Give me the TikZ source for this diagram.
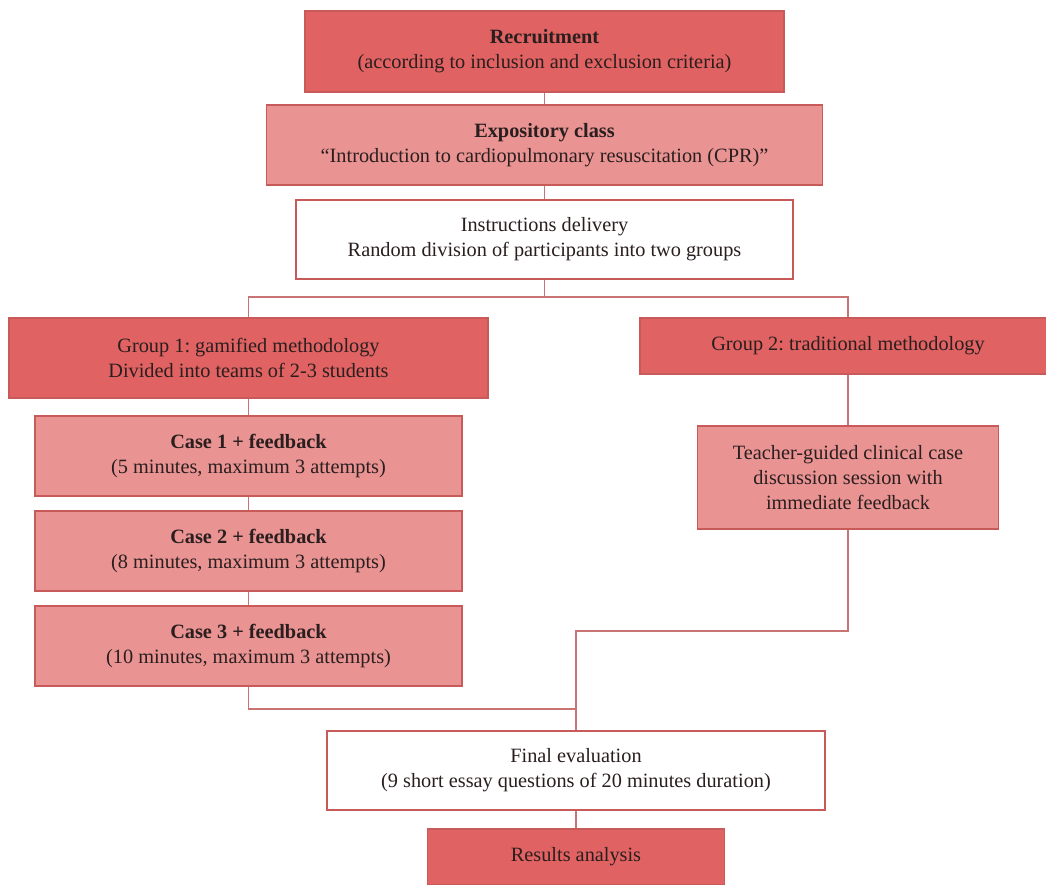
\documentclass[tikz,border=0pt]{standalone}
\usepackage{fontspec}
\setmainfont{Liberation Serif}
\frenchspacing
\definecolor{darkred}{HTML}{E06262}
\definecolor{lightred}{HTML}{E99393}
\definecolor{edgered}{HTML}{C85A5A}
\definecolor{linered}{HTML}{C87474}
\definecolor{txt}{HTML}{2A1E1E}
\tikzset{
  box/.style={draw=edgered, line width=1.2pt, inner sep=0pt, align=center, text=txt,
    font=\fontsize{20.3}{25}\selectfont\frenchspacing},
  darkbox/.style={box, fill=darkred},
  lightbox/.style={box, fill=lightred},
  whitebox/.style={box, fill=white},
  conn/.style={draw=linered, line width=1.3pt},
}
\begin{document}
\begin{tikzpicture}[x=1pt,y=-1pt]
\clip (0,0) rectangle (1046,884);
\fill[white] (0,0) rectangle (1046,884);
\node[darkbox, minimum width=479pt, minimum height=81pt] (rec) at (544.5,51.5)
  {\textbf{Recruitment}\\(according to inclusion and exclusion criteria)};
\node[lightbox, minimum width=556pt, minimum height=80pt] (exp) at (544.5,145)
  {\textbf{Expository class}\\``Introduction to cardiopulmonary resuscitation (CPR)''};
\node[whitebox, minimum width=497pt, minimum height=79pt] (ins) at (544.5,239.5)
  {Instructions delivery\\Random division of participants into two groups};
\node[darkbox, minimum width=479pt, minimum height=80pt] (g1) at (248.5,358)
  {Group 1: gamified methodology\\Divided into teams of 2-3 students};
\node[darkbox, minimum width=416pt, minimum height=56pt] (g2) at (848,346)
  {Group 2: traditional methodology};
\node[lightbox, minimum width=427pt, minimum height=80pt] (c1) at (248.5,456)
  {\textbf{Case 1 + feedback}\\(5 minutes, maximum 3 attempts)};
\node[lightbox, minimum width=427pt, minimum height=80pt] (c2) at (248.5,551)
  {\textbf{Case 2 + feedback}\\(8 minutes, maximum 3 attempts)};
\node[lightbox, minimum width=427pt, minimum height=80pt] (c3) at (248.5,646)
  {\textbf{Case 3 + feedback}\\(10 minutes, maximum 3 attempts)};
\node[lightbox, minimum width=301pt, minimum height=103pt] (tg) at (848,477.5)
  {Teacher-guided clinical case\\discussion session with\\immediate feedback};
\node[whitebox, minimum width=498pt, minimum height=79pt] (fe) at (576,770.5)
  {Final evaluation\\(9 short essay questions of 20 minutes duration)};
\node[darkbox, minimum width=297pt, minimum height=56pt] (ra) at (576,857)
  {Results analysis};
\coordinate (j1) at (544.5,297);
\coordinate (j2) at (576,709);
\coordinate (j3) at (576,631);
\draw[conn] (rec) -- (exp);
\draw[conn] (exp) -- (ins);
\draw[conn] (ins.south) -- (j1);
\draw[conn] (g1.north) |- (j1) -| (g2.north);
\draw[conn] (g1) -- (c1);
\draw[conn] (c1) -- (c2);
\draw[conn] (c2) -- (c3);
\draw[conn] (g2) -- (tg);
\draw[conn] (c3.south) |- (j2);
\draw[conn] (tg.south) |- (j3) -- (fe.north);
\draw[conn] (fe) -- (ra);
\end{tikzpicture}
\end{document}
